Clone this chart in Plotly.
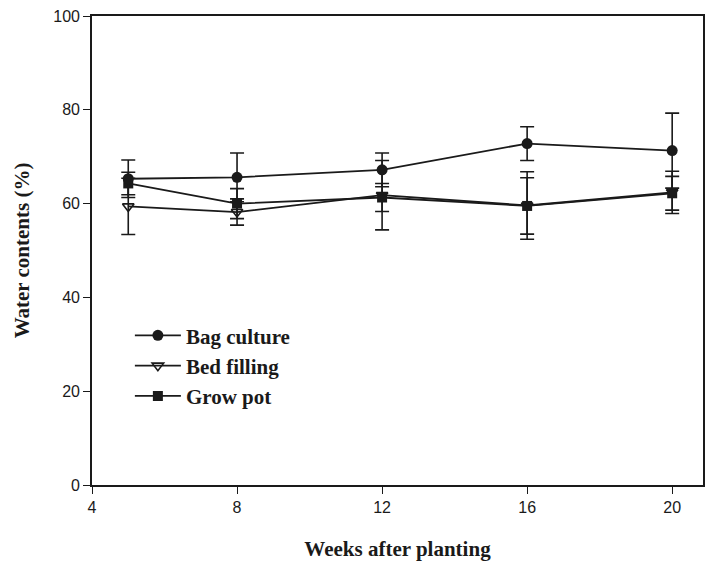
import plotly.graph_objects as go

# Sampling weeks
weeks = [5, 8, 12, 16, 20]

# Mean water contents (%) and standard deviations per treatment
bag_culture = [65.3, 65.6, 67.2, 72.8, 71.3]
bag_culture_sd = [4.0, 5.2, 3.6, 3.6, 8.0]

bed_filling = [59.4, 58.2, 61.8, 59.6, 62.4]
bed_filling_sd = [6.0, 2.8, 7.4, 7.2, 4.5]

grow_pot = [64.3, 60.0, 61.3, 59.5, 62.2]
grow_pot_sd = [2.4, 3.2, 3.0, 6.0, 3.6]

x_ticks = [4, 8, 12, 16, 20]
y_ticks = [0, 20, 40, 60, 80, 100]

INK = "#1a1a1a"
SERIF = "Liberation Serif, Times New Roman"

def err(sd):
    return dict(type="data", array=sd, visible=True, color=INK,
                thickness=1.6, width=7)

fig = go.Figure()
fig.add_trace(go.Scatter(
    x=weeks, y=bed_filling, name="<b>Bed filling</b>", mode="lines+markers",
    line=dict(color=INK, width=1.8),
    marker=dict(symbol="triangle-down-open", size=10, color=INK,
                line=dict(width=1.6, color=INK)),
    error_y=err(bed_filling_sd), legendrank=2,
))
fig.add_trace(go.Scatter(
    x=weeks, y=grow_pot, name="<b>Grow pot</b>", mode="lines+markers",
    line=dict(color=INK, width=1.8),
    marker=dict(symbol="square", size=10, color=INK),
    error_y=err(grow_pot_sd), legendrank=3,
))
fig.add_trace(go.Scatter(
    x=weeks, y=bag_culture, name="<b>Bag culture</b>", mode="lines+markers",
    line=dict(color=INK, width=1.8),
    marker=dict(symbol="circle", size=11, color=INK),
    error_y=err(bag_culture_sd), legendrank=1,
))

axis_common = dict(
    showgrid=False, zeroline=False, showline=True, linecolor=INK,
    linewidth=1.6, mirror=True, ticks="outside", ticklen=7,
    tickwidth=1.2, tickcolor=INK,
    tickfont=dict(family="Liberation Sans, Arial", size=16, color=INK),
)

fig.update_layout(
    width=707, height=571,
    margin=dict(l=92, r=2, t=16, b=86),
    paper_bgcolor="white", plot_bgcolor="white",
    showlegend=True,
    legend=dict(
        x=0.062, y=0.362, xanchor="left", yanchor="top",
        font=dict(family=SERIF, size=21, color=INK),
        bgcolor="rgba(0,0,0,0)", itemwidth=46, tracegroupgap=3,
    ),
    xaxis=dict(
        range=[4, 20.85], tickvals=x_ticks, ticktext=[str(v) for v in x_ticks],
        title=dict(text="<b>Weeks after planting</b>", standoff=26,
                   font=dict(family=SERIF, size=21, color=INK)),
        **axis_common,
    ),
    yaxis=dict(
        range=[0, 100], tickvals=y_ticks, ticktext=[str(v) for v in y_ticks],
        title=dict(text="<b>Water contents (%)</b>", standoff=18,
                   font=dict(family=SERIF, size=21, color=INK)),
        **axis_common,
    ),
)

fig.write_html("out.html")
